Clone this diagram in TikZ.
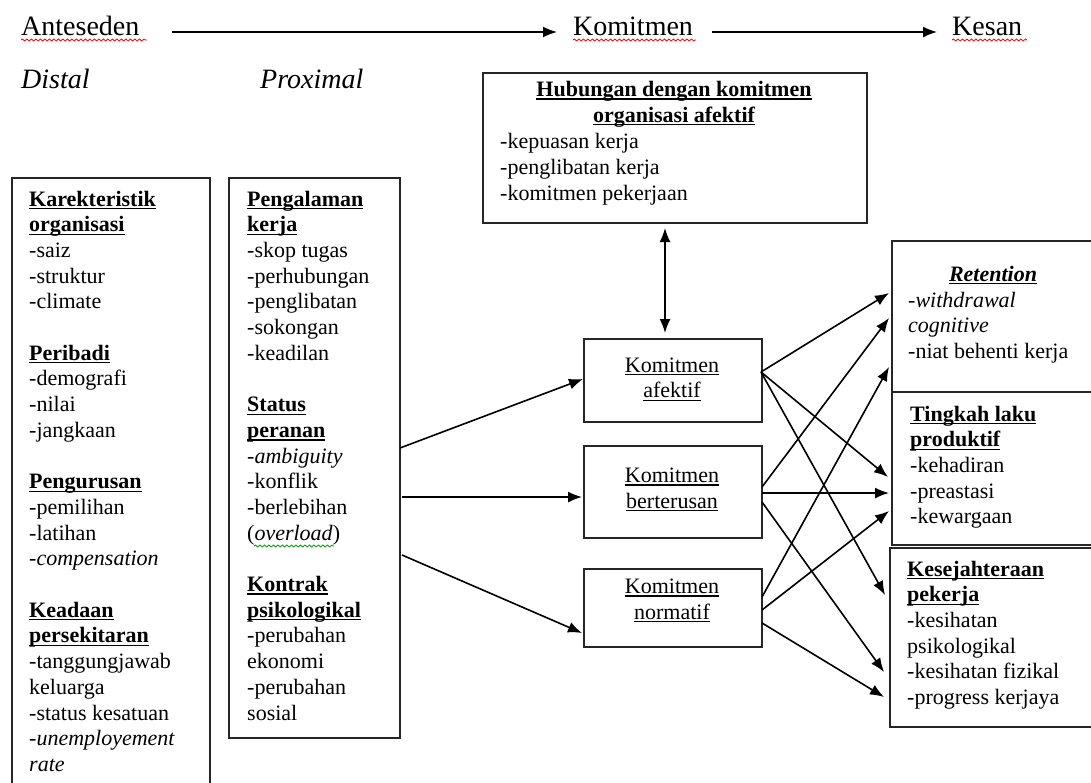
\documentclass[tikz,border=0pt]{standalone}
\usepackage{fontspec}
\setmainfont{Liberation Serif}
\usetikzlibrary{arrows.meta,decorations.pathmorphing,calc}
\newsavebox{\ulbox}
\newcommand{\ulx}[1]{\sbox{\ulbox}{#1}\rlap{\rule[-3.2pt]{\wd\ulbox}{1.3pt}}\usebox{\ulbox}}
\begin{document}
\begin{tikzpicture}[x=1pt,y=-1pt,
  box/.style={draw=black!85, line width=1.8pt, inner sep=0pt, anchor=north west},
  body/.style={font=\fontsize{22}{25.7}\selectfont, inner sep=0pt, align=left, anchor=base west},
  ctext/.style={font=\fontsize{22}{25.7}\selectfont, inner sep=0pt, align=center, anchor=base},
  head/.style={font=\fontsize{28}{32}\selectfont, inner sep=0pt, anchor=base west},
  arr/.style={-{Latex[length=14pt,width=11pt]}, line width=1.6pt},
  darr/.style={{Latex[length=14pt,width=11pt]}-{Latex[length=14pt,width=11pt]}, line width=1.6pt},
  wavy/.style={decorate, decoration={snake, amplitude=1pt, segment length=4.5pt}, line width=0.8pt}]
\useasboundingbox (0,0) rectangle (1091,782);

% ---------- header ----------
\node[head] (ant) at (21,35) {Anteseden};
\node[head] (komh) at (573,35) {Komitmen};
\node[head] (kes) at (952,35) {Kesan};
\coordinate (h1a) at (172,32);
\coordinate (h1b) at (557,32);
\coordinate (h2a) at (712,32);
\coordinate (h2b) at (937,32);
\draw[arr] (h1a) -- (h1b);
\draw[arr] (h2a) -- (h2b);
\draw[wavy, red] (21,40) -- (147,40);
\draw[wavy, red] (573,40) -- (696,40);
\draw[wavy, red] (952,40) -- (1027,40);
\node[head, font=\fontsize{28}{32}\selectfont\itshape] (dist) at (21,88) {Distal};
\node[head, font=\fontsize{28}{32}\selectfont\itshape] (prox) at (260,88) {Proximal};

% ---------- boxes ----------
\node[box, minimum width=198pt, minimum height=623pt] (left) at (11,177) {};
\node[box, minimum width=171pt, minimum height=560pt] (mid) at (228,177) {};
\node[box, minimum width=384pt, minimum height=150pt] (hub) at (482,72) {};
\node[box, minimum width=178pt, minimum height=83pt] (afk) at (583,338) {};
\node[box, minimum width=178pt, minimum height=92pt] (bert) at (583,445) {};
\node[box, minimum width=178pt, minimum height=78pt] (norm) at (583,568) {};
\node[box, minimum width=204pt, minimum height=151pt] (ret) at (891,240) {};
\node[box, minimum width=204pt, minimum height=153pt] (ting) at (891,391) {};
\node[box, minimum width=206pt, minimum height=179pt] (kesj) at (889,547) {};

% ---------- texts (anchored at the baseline of the LAST line) ----------
\node[body] (lefttxt) at (29,771.4) {\ulx{\bfseries Karekteristik}\\ \ulx{\bfseries organisasi}\\ -saiz\\ -struktur\\ -climate\\[25.7pt]
\ulx{\bfseries Peribadi}\\ -demografi\\ -nilai\\ -jangkaan\\[25.7pt]
\ulx{\bfseries Pengurusan}\\ -pemilihan\\ -latihan\\ \textit{-compensation}\\[25.7pt]
\ulx{\bfseries Keadaan}\\ \ulx{\bfseries persekitaran}\\ -tanggungjawab\\ keluarga\\ -status kesatuan\\ \textit{-unemployement}\\ \textit{rate}};

\node[body] (midtxt) at (247,720) {\ulx{\bfseries Pengalaman}\\ \ulx{\bfseries kerja}\\ -skop tugas\\ -perhubungan\\ -penglibatan\\ -sokongan\\ -keadilan\\[25.7pt]
\ulx{\bfseries Status}\\ \ulx{\bfseries peranan}\\ \textit{-ambiguity}\\ -konflik\\ -berlebihan\\ (\textit{overload})\\[25.7pt]
\ulx{\bfseries Kontrak}\\ \ulx{\bfseries psikologikal}\\ -perubahan\\ ekonomi\\ -perubahan\\ sosial};
\draw[wavy, green!60!black] (254,546) -- (334,546);

\node[ctext] (hubhead) at (674,122) {\ulx{\bfseries Hubungan dengan komitmen}\\ \ulx{\bfseries organisasi afektif}};
\node[body] (hubtxt) at (500,200) {-kepuasan kerja\\ -penglibatan kerja\\ -komitmen pekerjaan};

\node[ctext] (afktxt) at (672,397.7) {\ulx{Komitmen}\\ \ulx{afektif}};
\node[ctext] (berttxt) at (672,508) {\ulx{Komitmen}\\ \ulx{berterusan}};
\node[ctext] (normtxt) at (672,619) {\ulx{Komitmen}\\ \ulx{normatif}};

\node[ctext] (rethead) at (993,281) {\ulx{\bfseries\itshape Retention}};
\node[body] (rettxt) at (908,358.4) {\textit{-withdrawal}\\ \textit{cognitive}\\ -niat behenti kerja};
\node[body] (tingtxt) at (910,523.8) {\ulx{\bfseries Tingkah laku}\\ \ulx{\bfseries produktif}\\ -kehadiran\\ -preastasi\\ -kewargaan};
\node[body] (kesjtxt) at (907,704.5) {\ulx{\bfseries Kesejahteraan}\\ \ulx{\bfseries pekerja}\\ -kesihatan\\ psikologikal\\ -kesihatan fizikal\\ -progress kerjaya};

% ---------- connectors ----------
\coordinate (d1) at (665,228);
\coordinate (d2) at (665,333);
\draw[darr] (d1) -- (d2);

\coordinate (p1) at (400,448);
\coordinate (p2) at (402,497);
\coordinate (p3) at (402,555);
\coordinate (k1) at (583,379);
\coordinate (k2) at (582,497);
\coordinate (k3) at (582,633);
\draw[arr] (p1) -- (k1);
\draw[arr] (p2) -- (k2);
\draw[arr] (p3) -- (k3);

\coordinate (a0) at (761,372);
\coordinate (b1) at (762,487);
\coordinate (b2) at (762,493);
\coordinate (b3) at (762,502);
\coordinate (n1) at (762,597);
\coordinate (n2) at (762,610);
\coordinate (n3) at (762,623);
\coordinate (aR) at (889,293);
\coordinate (aT) at (888,477);
\coordinate (aK) at (885,595);
\coordinate (bR) at (889,318);
\coordinate (bT) at (889,493);
\coordinate (bK) at (884,672);
\coordinate (nR) at (889,367);
\coordinate (nT) at (889,511);
\coordinate (nK) at (884,697);
\draw[arr] (a0) -- (aR);
\draw[arr] (a0) -- (aT);
\draw[arr] (a0) -- (aK);
\draw[arr] (b1) -- (bR);
\draw[arr] (b2) -- (bT);
\draw[arr] (b3) -- (bK);
\draw[arr] (n1) -- (nR);
\draw[arr] (n2) -- (nT);
\draw[arr] (n3) -- (nK);
\end{tikzpicture}
\end{document}
